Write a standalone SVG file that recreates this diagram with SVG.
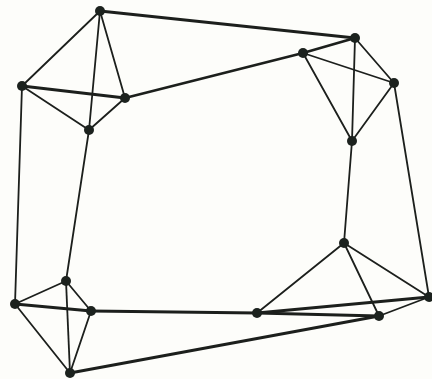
<svg xmlns="http://www.w3.org/2000/svg" width="432" height="379" viewBox="0 0 432 379">
<style>
.e{stroke:#1c1f1c;stroke-width:1.8;stroke-linecap:round;fill:none}
.t{stroke-width:2.8}
.n{fill:#1c221e}
</style>
<rect width="432" height="379" fill="#fdfdfa"/>
<g id="edges">
<line class="e" x1="100" y1="11" x2="22" y2="86"/>
<line class="e" x1="100" y1="11" x2="125" y2="98"/>
<line class="e" x1="100" y1="11" x2="89" y2="130"/>
<line class="e t" x1="22" y1="86" x2="125" y2="98"/>
<line class="e" x1="22" y1="86" x2="89" y2="130"/>
<line class="e" x1="125" y1="98" x2="89" y2="130"/>
<line class="e t" x1="100" y1="11" x2="355" y2="38"/>
<line class="e t" x1="125" y1="98" x2="303" y2="53"/>
<line class="e t" x1="355" y1="38" x2="303" y2="53"/>
<line class="e" x1="355" y1="38" x2="394" y2="83"/>
<line class="e" x1="355" y1="38" x2="352" y2="141"/>
<line class="e" x1="303" y1="53" x2="394" y2="83"/>
<line class="e" x1="303" y1="53" x2="352" y2="141"/>
<line class="e" x1="394" y1="83" x2="352" y2="141"/>
<line class="e" x1="22" y1="86" x2="15" y2="304"/>
<line class="e" x1="89" y1="130" x2="66" y2="281"/>
<line class="e" x1="352" y1="141" x2="344" y2="243"/>
<line class="e" x1="394" y1="83" x2="429" y2="297"/>
<line class="e" x1="66" y1="281" x2="15" y2="304"/>
<line class="e" x1="66" y1="281" x2="91" y2="311"/>
<line class="e" x1="66" y1="281" x2="70" y2="373"/>
<line class="e t" x1="15" y1="304" x2="91" y2="311"/>
<line class="e" x1="15" y1="304" x2="70" y2="373"/>
<line class="e" x1="91" y1="311" x2="70" y2="373"/>
<line class="e t" x1="91" y1="311" x2="257" y2="313"/>
<line class="e t" x1="70" y1="373" x2="379" y2="316"/>
<line class="e" x1="344" y1="243" x2="257" y2="313"/>
<line class="e" x1="344" y1="243" x2="379" y2="316"/>
<line class="e" x1="344" y1="243" x2="429" y2="297"/>
<line class="e t" x1="257" y1="313" x2="379" y2="316"/>
<line class="e t" x1="257" y1="313" x2="429" y2="297"/>
<line class="e" x1="379" y1="316" x2="429" y2="297"/>
</g>
<g id="nA"><circle class="n" cx="100" cy="11" r="5"/></g>
<g id="nB"><circle class="n" cx="22" cy="86" r="5"/></g>
<g id="nC"><circle class="n" cx="125" cy="98" r="5"/></g>
<g id="nD"><circle class="n" cx="89" cy="130" r="5"/></g>
<g id="nE"><circle class="n" cx="355" cy="38" r="5"/></g>
<g id="nF"><circle class="n" cx="303" cy="53" r="5"/></g>
<g id="nG"><circle class="n" cx="394" cy="83" r="5"/></g>
<g id="nH"><circle class="n" cx="352" cy="141" r="5"/></g>
<g id="nI"><circle class="n" cx="66" cy="281" r="5"/></g>
<g id="nJ"><circle class="n" cx="15" cy="304" r="5"/></g>
<g id="nK"><circle class="n" cx="91" cy="311" r="5"/></g>
<g id="nL"><circle class="n" cx="70" cy="373" r="5"/></g>
<g id="nM"><circle class="n" cx="344" cy="243" r="5"/></g>
<g id="nN"><circle class="n" cx="257" cy="313" r="5"/></g>
<g id="nO"><circle class="n" cx="379" cy="316" r="5"/></g>
<g id="nP"><circle class="n" cx="429" cy="297" r="5"/></g>
</svg>
